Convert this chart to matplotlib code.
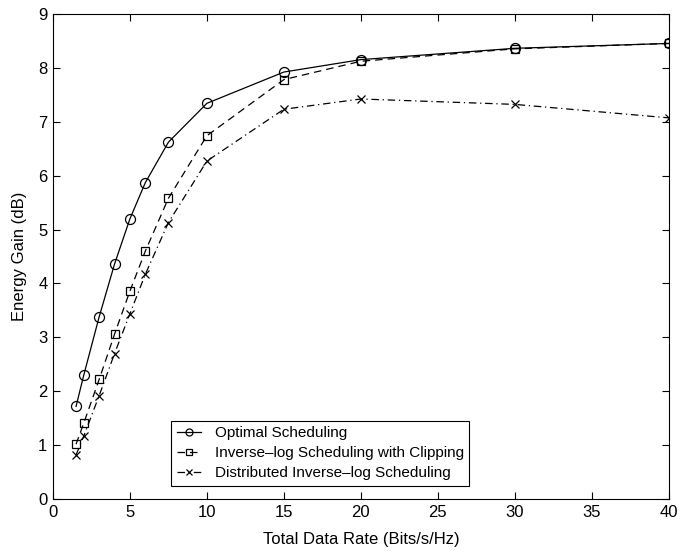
import matplotlib
matplotlib.use("Agg")
from matplotlib import pyplot as plt

rate = [1.5, 2, 3, 4, 5, 6, 7.5, 10, 15, 20, 30, 40]
optimal = [1.72, 2.30, 3.38, 4.36, 5.20, 5.87, 6.62, 7.34, 7.92, 8.15, 8.36, 8.45]
clipping = [1.02, 1.41, 2.22, 3.06, 3.86, 4.60, 5.58, 6.74, 7.78, 8.12, 8.35, 8.45]
distributed = [0.82, 1.17, 1.92, 2.70, 3.44, 4.17, 5.13, 6.27, 7.23, 7.42, 7.32, 7.07]

plt.rcParams['font.family'] = ['Liberation Sans', 'DejaVu Sans']
plt.rcParams['font.size'] = 11

fig = plt.figure(figsize=(6.79, 5.51), dpi=100)
ax = fig.add_axes([0.078, 0.094, 0.907, 0.881])

ax.plot(rate, optimal, color="black", linestyle="-", linewidth=0.9,
        marker="o", markersize=7.2, markerfacecolor="none", markeredgewidth=0.9,
        label="Optimal Scheduling")
ax.plot(rate, clipping, color="black", linestyle=(0, (6, 4)), linewidth=0.9,
        marker="s", markersize=5.5, markerfacecolor="none", markeredgewidth=0.9,
        label="Inverse\u2013log Scheduling with Clipping")
ax.plot(rate, distributed, color="black", linestyle=(0, (6, 3, 1, 3)), linewidth=0.9,
        marker="x", markersize=5.5, markeredgewidth=0.9,
        label="Distributed Inverse\u2013log Scheduling")

ax.set_xlim(0, 40)
ax.set_ylim(0, 9)
ax.set_xticks(range(0, 41, 5))
ax.set_yticks(range(0, 10))
ax.tick_params(direction="in", top=True, right=True, length=5, width=0.8, pad=4,
               labelsize=12)
for s in ax.spines.values():
    s.set_linewidth(0.8)

ax.set_xlabel("Total Data Rate (Bits/s/Hz)", fontsize=12, labelpad=9)
ax.set_ylabel("Energy Gain (dB)", fontsize=12, labelpad=8)

leg = ax.legend(loc="lower left", bbox_to_anchor=(0.192, 0.028), fancybox=False,
                edgecolor="black", framealpha=1, handlelength=1.6, handletextpad=0.9,
                borderpad=0.35, labelspacing=0.4, borderaxespad=0, fontsize=11,
                markerscale=0.7)
leg.get_frame().set_linewidth(0.8)

fig.savefig("out.png", dpi=100)
